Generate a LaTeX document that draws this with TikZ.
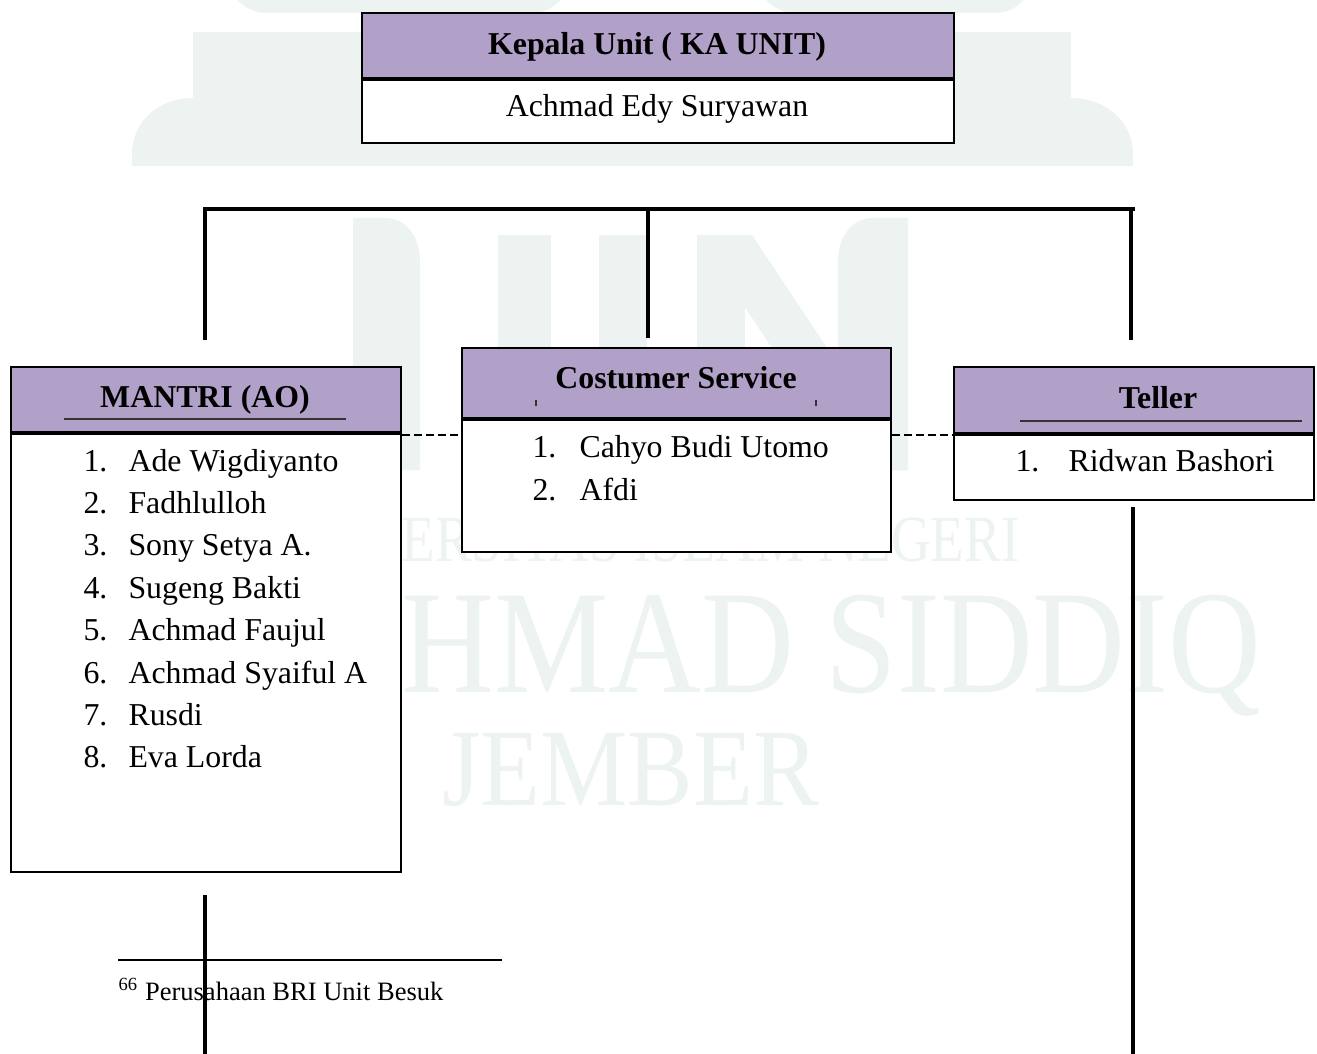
\documentclass[tikz,border=0pt]{standalone}
\usepackage{fontspec}
\setmainfont{Liberation Serif}
\usetikzlibrary{positioning}

\definecolor{headpurple}{RGB}{177,160,199}
\definecolor{wmgreen}{RGB}{236,243,240}
\newcommand{\pxu}{0.377pt}

\begin{document}
\begin{tikzpicture}[x=0.377pt, y=-0.377pt]
  \tikzset{
    head/.style={rectangle, draw=black, line width=0.8pt, fill=headpurple, inner sep=0pt, anchor=north west},
    body/.style={rectangle, draw=black, line width=0.8pt, fill=white, inner sep=0pt, anchor=north},
    txt/.style={inner sep=0pt, anchor=base, font=\fontsize{12pt}{14.4pt}\selectfont},
    headtxt/.style={txt, font=\fontsize{12pt}{14.4pt}\selectfont\bfseries},
    item/.style={txt, anchor=base west},
    wmark/.style={inner sep=0pt, text=wmgreen, anchor=base west},
    tree/.style={line width=1.2pt},
    treebar/.style={line width=1.35pt},
    link/.style={line width=0.6pt, dash pattern=on 3pt off 1.5pt},
    uline/.style={line width=0.4pt, draw=black!80}
  }
  \useasboundingbox (0,0) rectangle (1317,1054);
  \fill[white] (0,0) rectangle (1317,1054);

  % watermark
  \fill[wmgreen, rounded corners=15pt] (227,-60) rectangle (571,13);
  \fill[wmgreen, rounded corners=15pt] (756,-60) rectangle (1034,13);
  \fill[wmgreen] (132,166) -- (132,155) .. controls (132,120) and (160,98) .. (193,98)
    -- (193,32) -- (1071,32) -- (1071,98) .. controls (1104,98) and (1133,120) .. (1133,155)
    -- (1133,166) -- cycle;
  \fill[wmgreen] (353,470) -- (353,218) -- (385,218) .. controls (405,218) and (420,235) .. (420,262) -- (420,470) -- cycle;
  \fill[wmgreen] (498,235) rectangle (551,470);
  \fill[wmgreen] (599,235) rectangle (647,470);
  \fill[wmgreen] (697,235) rectangle (745,470);
  \fill[wmgreen] (697,235) -- (752,235) -- (908,470) -- (853,470) -- cycle;
  \fill[wmgreen] (838,470) -- (838,262) .. controls (838,235) and (853,218) .. (873,218) -- (908,218) -- (908,470) -- cycle;
  \node[wmark, font=\fontsize{20.7pt}{21pt}\selectfont] (wmuniv) at (401,561)
    {\scalebox{1}[1.2]{ERSITAS ISLAM NEGERI}};
  \node[wmark, font=\fontsize{47pt}{47pt}\selectfont] (wmname) at (401,692)
    {\scalebox{1.03}[1.18]{HMAD SIDDIQ}};
  \node[wmark, font=\fontsize{37pt}{37pt}\selectfont] (wmcity) at (442,805)
    {\scalebox{1}[1.12]{JEMBER}};

  % kepala unit
  \node[head, minimum width=592*\pxu, minimum height=65*\pxu] (kahead) at (361,12) {};
  \node[body, minimum width=592*\pxu, minimum height=63*\pxu] (kabody) at (kahead.south) {};
  \node[headtxt] (katitle) at (657,55) {Kepala Unit ( KA UNIT)};
  \node[txt] (kaname) at (657,117) {Achmad Edy Suryawan};

  % tree lines
  \coordinate (jl) at (205,209);
  \coordinate (jm) at (648,209);
  \coordinate (jr) at (1133,209);
  \coordinate (el) at (205,340);
  \coordinate (em) at (648,338);
  \coordinate (er) at (1131,340);
  \draw[treebar] ([xshift=-0.6pt]jl) -- ([xshift=0.6pt]jr);
  \draw[tree] (jl) -- (el);
  \draw[tree] (jm) -- (em);
  \draw[tree] (jr -| er) -- (er);

  % mantri
  \node[head, minimum width=390*\pxu, minimum height=65*\pxu] (mhead) at (10,366) {};
  \node[body, minimum width=390*\pxu, minimum height=438*\pxu] (mbody) at (mhead.south) {};
  \node[headtxt] (mtitle) at (205,407) {MANTRI (AO)};
  \draw[uline] (64,419) -- (346,419);
  \foreach \i/\name in {1/Ade Wigdiyanto, 2/Fadhlulloh, 3/Sony Setya A., 4/Sugeng Bakti,
                        5/Achmad Faujul, 6/Achmad Syaiful A, 7/Rusdi, 8/Eva Lorda} {
    \node[item] (mno\i) at (83,{471+42.4*(\i-1)}) {\i.};
    \node[item] (mname\i) at (128,{471+42.4*(\i-1)}) {\name};
  }

  % costumer service
  \node[head, minimum width=429*\pxu, minimum height=70*\pxu] (cshead) at (461,347) {};
  \node[body, minimum width=429*\pxu, minimum height=132*\pxu] (csbody) at (cshead.south) {};
  \node[headtxt] (cstitle) at (676,388) {Costumer Service};
  \draw[uline] (536,400) -- (536,406);
  \draw[uline] (816,400) -- (816,406);
  \foreach \i/\name in {1/Cahyo Budi Utomo, 2/Afdi} {
    \node[item] (csno\i) at (532,{457+43*(\i-1)}) {\i.};
    \node[item] (csname\i) at (579,{457+43*(\i-1)}) {\name};
  }

  % teller
  \node[head, minimum width=360*\pxu, minimum height=66*\pxu] (thead) at (953,366) {};
  \node[body, minimum width=360*\pxu, minimum height=65*\pxu] (tbody) at (thead.south) {};
  \node[headtxt] (ttitle) at (1158,408) {Teller};
  \draw[uline] (1020,421) -- (1302,421);
  \node[item] (tno1) at (1015,471) {1.};
  \node[item] (tname1) at (1068,471) {Ridwan Bashori};

  % dashed links
  \coordinate (dashy) at (0,435);
  \draw[link] (mbody.east |- dashy) -- (csbody.west |- dashy);
  \draw[link] (csbody.east |- dashy) -- (tbody.west |- dashy);

  % footnote
  \draw[line width=0.7pt] (118,960) -- (502,960);
  \node[item, font=\fontsize{10pt}{12pt}\selectfont] (fnote) at (118,1000)
    {\textsuperscript{66} Perusahaan BRI Unit Besuk};

  % lower lines
  \coordinate (bl1) at (205,895);
  \coordinate (bl2) at (205,1054);
  \coordinate (br1) at (1133,507);
  \coordinate (br2) at (1133,1054);
  \draw[tree] (bl1) -- (bl2);
  \draw[tree] (br1) -- (br2);
\end{tikzpicture}
\end{document}
